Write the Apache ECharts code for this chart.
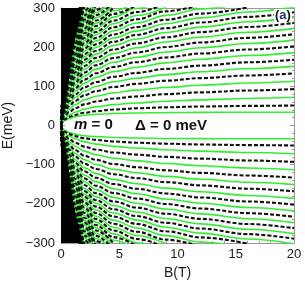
<!DOCTYPE html>
<html><head><meta charset="utf-8">
<script src="https://cdn.jsdelivr.net/npm/echarts@6/dist/echarts.min.js"></script>
<style>html,body{margin:0;padding:0;background:#fff}#c{width:305px;height:286px}</style>
</head><body><div id="c"></div>
<script>
// magnetic field sample points (T)
const fieldB = [0, 0.3, 0.7, 1.2, 2, 3, 4.5, 6.5, 9, 12, 16, 20];
// positive-energy levels (meV) read at the fieldB points, green solid branch
const greenLevels = [
  [0, 12, 18, 22, 26, 28.5, 30.5, 32, 33, 33.5, 34, 34],
  [0, 18, 26.6, 33.8, 41.8, 47.5, 53.3, 57.6, 61.9, 65.5, 69.1, 72],
  [0, 28.3, 41.8, 53.1, 65.5, 74.6, 83.6, 90.4, 97.2, 102.8, 108.5, 113],
  [0, 37.8, 55.9, 71, 87.6, 99.7, 111.7, 120.8, 129.9, 137.4, 145, 151],
  [0, 46.5, 68.8, 87.4, 107.9, 122.8, 137.6, 148.8, 160, 169.3, 178.6, 186],
  [0, 54.5, 80.7, 102.5, 126.4, 143.9, 161.3, 174.4, 187.5, 198.4, 209.3, 218],
  [0, 62, 91.8, 116.6, 143.8, 163.7, 183.5, 198.4, 213.3, 225.7, 238.1, 248],
  [0, 69, 102.1, 129.7, 160.1, 182.2, 204.2, 220.8, 237.4, 251.2, 265, 276],
  [0, 75.5, 111.7, 141.9, 175.2, 199.3, 223.5, 241.6, 259.7, 274.8, 289.9, 302],
  [0, 81.8, 121, 153.7, 189.7, 215.8, 242, 261.6, 281.2, 297.6, 313.9],
  [0, 87.8, 129.9, 165, 203.6, 231.7, 259.7, 280.8, 301.9],
  [0, 93.5, 138.4, 175.8, 216.9, 246.8, 276.8, 299.2, 321.6],
  [0, 99, 146.5, 186.1, 229.7, 261.4, 293, 316.8],
  [0, 104.3, 154.3, 196, 241.9, 275.2, 308.6],
  [0, 109.3, 161.7, 205.4, 253.5, 288.4, 323.4],
  [0, 114.3, 169.1, 214.8, 265.1, 301.6],
  [0, 119, 176.1, 223.7, 276.1, 314.2],
  [0, 123.8, 183.2, 232.7, 287.1, 326.7],
  [0, 128.3, 189.8, 241.1, 297.5, 338.6],
  [0, 132.8, 196.5, 249.6, 308],
  [0, 137.3, 203.1, 258, 318.4],
  [0, 141.5, 209.4, 266, 328.3],
  [0, 145.8, 215.7, 274, 338.1],
  [0, 150, 222, 282, 348]
];
// positive-energy levels (meV), black dashed branch
const dashedLevels = [
  [0, 15.3, 21.9, 27, 32.6, 36.7, 40.8, 43.9, 46.4, 48.5, 50, 51],
  [0, 23.3, 34.4, 43.7, 53.9, 61.4, 68.8, 74.4, 80, 84.6, 89.3, 93],
  [0, 33.3, 49.2, 62.5, 77.1, 87.8, 98.4, 106.4, 114.4, 121, 127.7, 133],
  [0, 42, 62.2, 79, 97.4, 110.9, 124.3, 134.4, 144.5, 152.9, 161.3, 168],
  [0, 50.5, 74.7, 94.9, 117.2, 133.3, 149.5, 161.6, 173.7, 183.8, 193.9, 202],
  [0, 58.3, 86.2, 109.5, 135.1, 153.8, 172.4, 186.4, 200.4, 212, 223.7, 233],
  [0, 65.5, 96.9, 123.1, 152, 172.9, 193.9, 209.6, 225.3, 238.4, 251.5, 262],
  [0, 72.3, 106.9, 135.8, 167.6, 190.7, 213.9, 231.2, 248.5, 263, 277.4, 289],
  [0, 78.5, 116.2, 147.6, 182.1, 207.2, 232.4, 251.2, 270, 285.7, 301.4],
  [0, 84.8, 125.4, 159.3, 196.6, 223.7, 250.9, 271.2, 291.5, 308.5],
  [0, 90.5, 133.9, 170.1, 210, 238.9, 267.9, 289.6, 311.3],
  [0, 96.3, 142.5, 181, 223.3, 254.1, 284.9, 308],
  [0, 101.5, 150.2, 190.8, 235.5, 268, 300.4],
  [0, 106.8, 158, 200.7, 247.7, 281.8, 316],
  [0, 111.8, 165.4, 210.1, 259.3, 295, 330.8],
  [0, 116.5, 172.4, 219, 270.3, 307.6],
  [0, 121.3, 179.5, 228, 281.3, 320.1],
  [0, 126, 186.5, 236.9, 292.3, 332.6],
  [0, 130.5, 193.1, 245.3, 302.8],
  [0, 135, 199.8, 253.8, 313.2],
  [0, 139.3, 206.1, 261.8, 323.1],
  [0, 143.5, 212.4, 269.8, 332.9],
  [0, 147.8, 218.7, 277.8, 342.8]
];
// edge of the saturated (black) low-field region
const coreB = [0, 0.1, 0.3, 0.55, 0.8, 1.05, 1.4, 1.9];
const coreE = [0, 3, 35, 90, 140, 195, 245, 300];
const xTicks = [0, 5, 10, 15, 20];
const yTicks = [-300, -200, -100, 0, 100, 200, 300];

const GREEN = '#33ee33';
const series = [];
function addLevel(arr, sign, green) {
  series.push({
    type: 'line', symbol: 'none', silent: true, smooth: 0.35, smoothMonotone: 'x',
    clip: true, z: green ? 2 : 3,
    lineStyle: green ? { color: GREEN, width: 1.6 } : { color: '#111', width: 2.1, type: [4, 2] },
    data: arr.map((e, i) => [fieldB[i], sign * e])
  });
}
greenLevels.forEach(a => { addLevel(a, 1, true); addLevel(a, -1, true); });
dashedLevels.forEach(a => { addLevel(a, 1, false); addLevel(a, -1, false); });
series.push({
  type: 'line', symbol: 'none', silent: true, smooth: false, z: 5,
  lineStyle: { width: 0 }, areaStyle: { color: '#000', opacity: 1, origin: 'end' },
  data: coreB.map((b, i) => [b, coreE[i]])
});
series.push({
  type: 'line', symbol: 'none', silent: true, smooth: false, z: 5,
  lineStyle: { width: 0 }, areaStyle: { color: '#000', opacity: 1, origin: 'start' },
  data: coreB.map((b, i) => [b, -coreE[i]])
});

const lab = { color: '#1a1a1a', fontFamily: 'Liberation Sans', fontSize: 13 };
const axisLineStyle = { lineStyle: { color: '#9a9a9a', width: 1 } };
const chart = echarts.init(document.getElementById('c'), null, { renderer: 'canvas' });
chart.setOption({
  animation: false,
  backgroundColor: '#fff',
  grid: { left: 61, right: 11, top: 8, bottom: 43, show: false, containLabel: false, outerBoundsMode: 'none' },
  xAxis: [
    { type: 'value', min: xTicks[0], max: xTicks[xTicks.length - 1], interval: 5, position: 'bottom',
      axisLine: { show: true, onZero: false, ...axisLineStyle },
      axisTick: { inside: true, length: 4, lineStyle: { color: '#9a9a9a' } },
      minorTick: { show: true, splitNumber: 5, length: 2, lineStyle: { color: '#9a9a9a' } },
      splitLine: { show: false },
      axisLabel: { ...lab, margin: 5 },
      name: 'B(T)', nameLocation: 'middle', nameGap: 23,
      nameTextStyle: { color: '#1a1a1a', fontFamily: 'Liberation Sans', fontSize: 14 } },
    { type: 'value', min: 0, max: 20, interval: 5, position: 'top',
      axisLine: { show: true, onZero: false, ...axisLineStyle },
      axisTick: { inside: true, length: 4, lineStyle: { color: '#9a9a9a' } },
      minorTick: { show: true, splitNumber: 5, length: 2, lineStyle: { color: '#9a9a9a' } },
      splitLine: { show: false }, axisLabel: { show: false } }
  ],
  yAxis: [
    { type: 'value', min: yTicks[0], max: yTicks[yTicks.length - 1], interval: 100, position: 'left',
      axisLine: { show: true, onZero: false, ...axisLineStyle },
      axisTick: { inside: true, length: 4, lineStyle: { color: '#9a9a9a' } },
      minorTick: { show: true, splitNumber: 5, length: 2, lineStyle: { color: '#9a9a9a' } },
      splitLine: { show: false },
      axisLabel: { ...lab, margin: 6, formatter: v => String(v).replace('-', '\u2212') },
      name: 'E(meV)', nameLocation: 'middle', nameGap: 40, nameRotate: 90,
      nameTextStyle: { color: '#1a1a1a', fontFamily: 'Liberation Sans', fontSize: 14 } },
    { type: 'value', min: -300, max: 300, interval: 100, position: 'right',
      axisLine: { show: true, onZero: false, ...axisLineStyle },
      axisTick: { inside: true, length: 4, lineStyle: { color: '#9a9a9a' } },
      minorTick: { show: true, splitNumber: 5, length: 2, lineStyle: { color: '#9a9a9a' } },
      splitLine: { show: false }, axisLabel: { show: false } }
  ],
  graphic: [
    { type: 'text', left: 74, top: 117, z: 100,
      style: { text: '{i|m} = 0', fill: '#111', font: 'bold 15px "Liberation Sans"',
        rich: { i: { fontStyle: 'italic', fontWeight: 'bold', fontSize: 15, fontFamily: 'Liberation Sans', fill: '#111' } } } },
    { type: 'text', left: 135, top: 118, z: 100,
      style: { text: '\u0394 = 0 meV', fill: '#111', font: 'bold 15px "Liberation Sans"' } },
    { type: 'text', left: 274, top: 9, z: 100,
      style: { text: '({a|a})', fill: '#111', font: 'bold 13px "Liberation Sans"',
        backgroundColor: '#fff', padding: [0, 1, 0, 1],
        rich: { a: { fill: '#1c2f7a', fontWeight: 'bold', fontSize: 13, fontFamily: 'Liberation Sans' } } } }
  ],
  series: series
});
</script></body></html>
